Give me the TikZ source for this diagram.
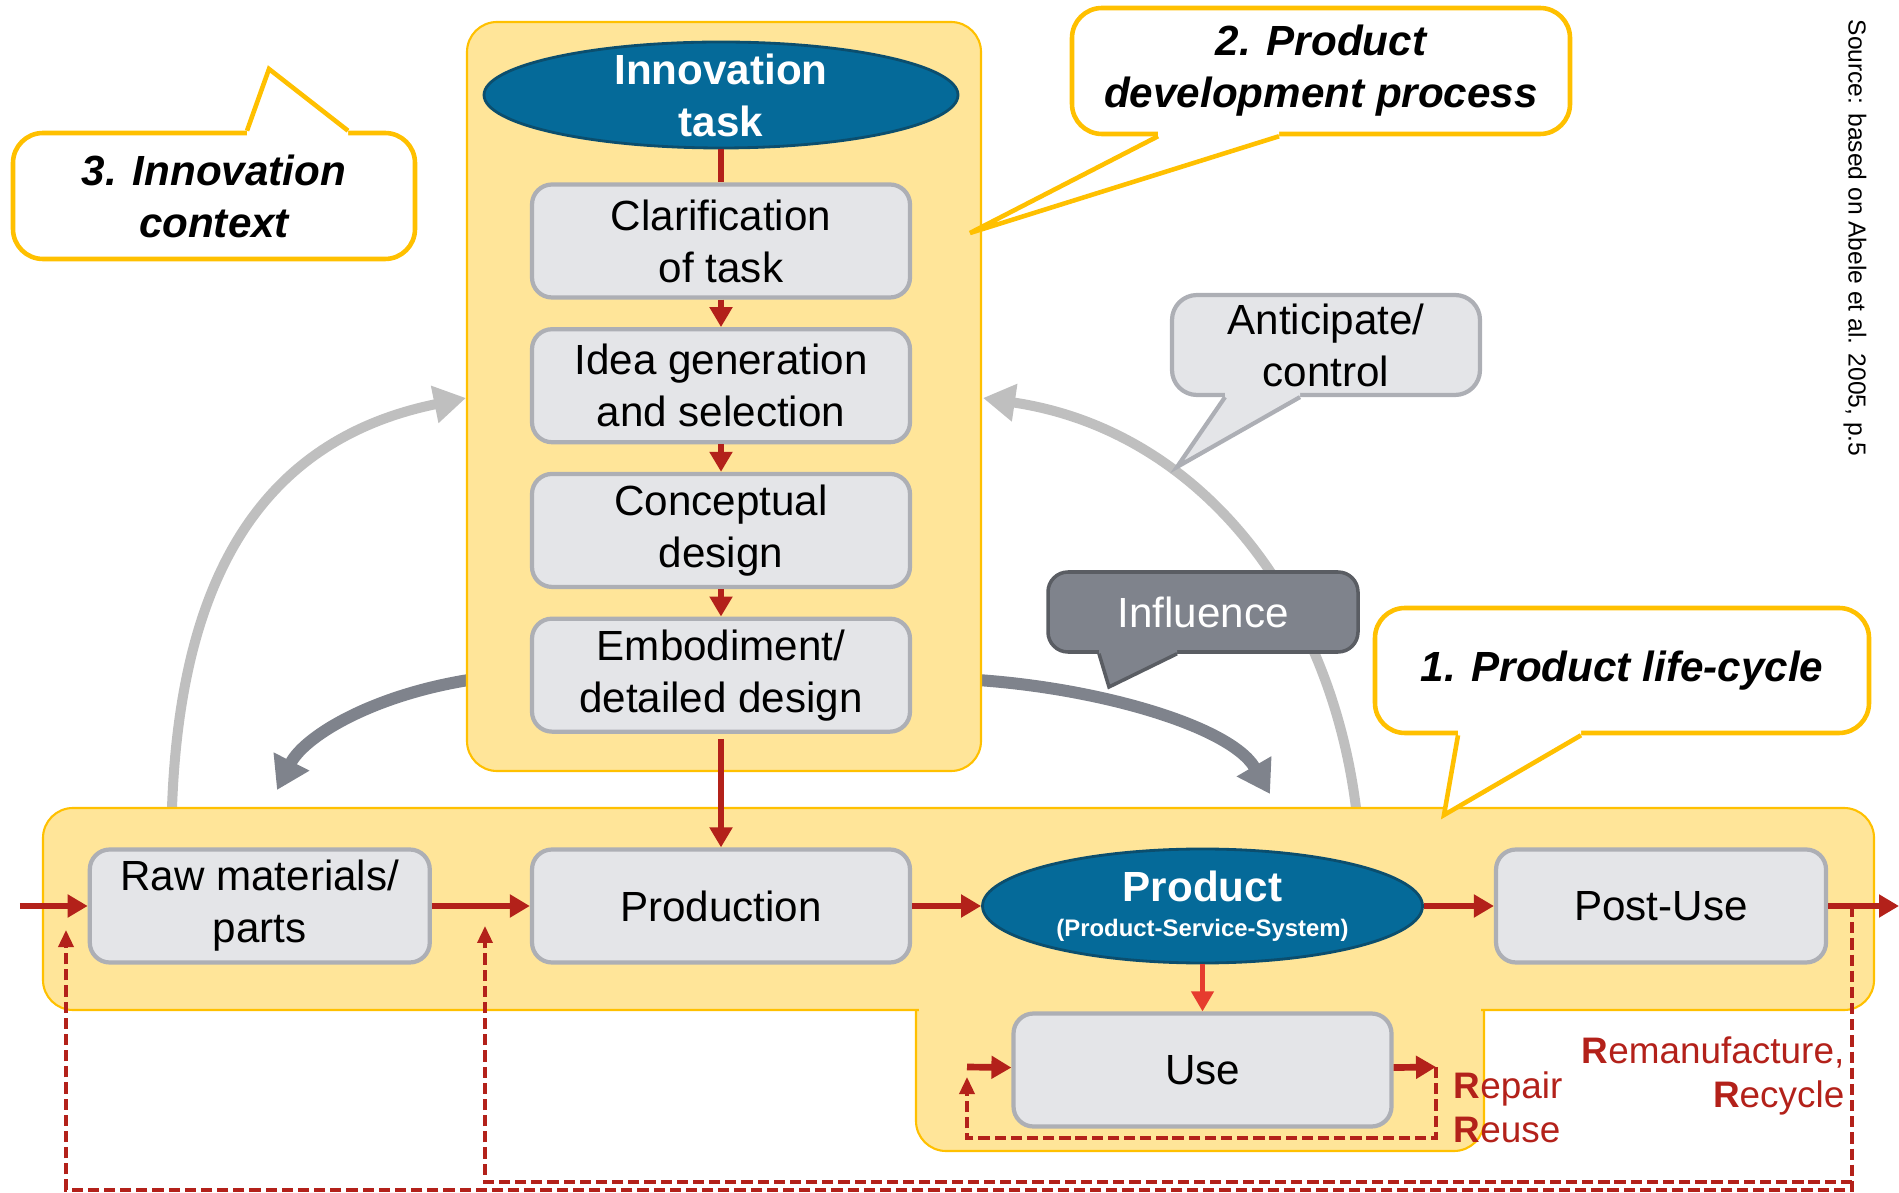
\documentclass[tikz,border=0pt]{standalone}
\usepackage{fontspec}
\setmainfont{Liberation Sans}
\usetikzlibrary{positioning,arrows.meta,shapes.geometric}

\definecolor{lcfill}{HTML}{FFE599}
\definecolor{lcedge}{HTML}{FFC000}
\definecolor{boxfill}{HTML}{E4E5E8}
\definecolor{boxedge}{HTML}{ADAFB5}
\definecolor{ellfill}{HTML}{056A99}
\definecolor{elledge}{HTML}{0B4E6E}
\definecolor{pdred}{HTML}{B3211A}
\definecolor{usered}{HTML}{E63C2E}
\definecolor{lightarc}{HTML}{BFBFBF}
\definecolor{darkarc}{HTML}{7F838C}
\definecolor{darkedge}{HTML}{5A5D63}

\newcommand\mainsize{\fontsize{12}{14.8}\selectfont}

\tikzset{
	stepbox/.style={draw=boxedge, fill=boxfill, line width=1.2pt, rounded corners=2mm, minimum width=3.78cm, minimum height=1.13cm, align=center, inner sep=0pt, font=\mainsize},
	blob/.style={ellipse, draw=elledge, fill=ellfill, line width=0.8pt, text=white, align=center, inner xsep=0pt, font=\mainsize\bfseries},
	zone/.style={fill=lcfill, draw=lcedge, line width=0.6pt, rounded corners=3mm},
	note/.style={draw=lcedge, fill=white, line width=1.3pt, rounded corners=3mm, align=center, inner sep=0pt, font=\mainsize\bfseries\itshape},
	ask/.style={draw=boxedge, fill=boxfill, line width=1.2pt, rounded corners=2.5mm, align=center, inner sep=0pt, font=\mainsize},
	push/.style={draw=darkedge, fill=darkarc, line width=1pt, rounded corners=2mm, text=white, inner sep=0pt, font=\mainsize},
	redline/.style={draw=pdred, line width=1.9pt},
	flow/.style={redline, -{Triangle[width=2.2mm,length=2mm]}},
	loopback/.style={draw=pdred, line width=1pt, dash pattern=on 3.2pt off 1.4pt, -{Triangle[width=1.5mm,length=1.7mm]}},
	feedback/.style={draw=lightarc, line width=1mm, -{Triangle[width=3.6mm,length=3.2mm]}},
	impact/.style={draw=darkarc, line width=1.2mm, -{Triangle[width=3.8mm,length=3.2mm]}},
	redtext/.style={text=pdred, inner sep=0pt, font=\fontsize{10.5}{12.5}\selectfont}
}

\begin{document}
\begin{tikzpicture}
	\useasboundingbox (0,0) rectangle (18.99,-11.93);

	\coordinate (fbl) at (1.72,-8.08);
	\coordinate (fbltip) at (4.66,-3.98);
	\coordinate (fbr) at (13.56,-8.08);
	\coordinate (fbrtip) at (9.83,-3.98);
	\coordinate (ifl) at (4.90,-6.77);
	\coordinate (ifltip) at (2.77,-7.90);
	\coordinate (ifr) at (9.60,-6.79);
	\coordinate (ifrtip) at (12.70,-7.94);

	\draw [feedback] (fbl) .. controls (1.80,-5.8) and (2.6,-4.4) .. (fbltip);
	\draw [feedback] (fbr) .. controls (13.3,-6.0) and (12.0,-4.3) .. (fbrtip);
	\draw [impact] (ifl) .. controls (3.8,-6.9) and (3.05,-7.35) .. (ifltip);
	\draw [impact] (ifr) .. controls (10.9,-6.85) and (12.3,-7.25) .. (ifrtip);

	\draw [zone] (9.16,-9.5) rectangle (14.84,-11.51);
	\draw [zone] (0.43,-8.08) rectangle (18.74,-10.10);
	\fill [lcfill] (9.19,-9.9) rectangle (14.81,-10.2);
	\draw [zone] (4.67,-0.22) rectangle (9.81,-7.71);

	\node [blob, minimum width=4.74cm, minimum height=1.06cm, inner ysep=-1mm] (inno) at (7.21,-0.95) {Innovation\\task};
	\node [stepbox] (clar) at (7.21,-2.41) {Clarification\\of task};
	\node [stepbox, below=2.75mm of clar] (idea) {Idea generation\\and selection};
	\node [stepbox, below=2.75mm of idea] (concept) {Conceptual\\design};
	\node [stepbox, below=2.75mm of concept] (embod) {Embodiment/\\detailed design};

	\node [stepbox] (prod) at (7.21,-9.06) {Production};
	\node [stepbox, minimum width=3.40cm, left=0.98cm of prod] (raw) {Raw materials/\\parts};
	\node [blob, minimum width=4.40cm, minimum height=1.14cm, inner ysep=0pt, right=0.69cm of prod] (product) {Product\\[-5pt]{\fontsize{6.8}{8}\selectfont(Product-Service-System)}};
	\node [stepbox, minimum width=3.30cm, right=0.70cm of product] (post) {Post-Use};
	\node [stepbox, below=0.47cm of product] (use) {Use};

	\coordinate (lcin) at (0.20,-9.06);
	\coordinate (lcout) at (18.99,-9.06);
	\coordinate (usein) at (9.67,-10.67);
	\coordinate (useout) at (14.36,-10.67);
	\coordinate (recout) at (18.52,-9.06);
	\coordinate (recbend) at (18.52,-11.82);
	\coordinate (rawback) at (0.66,-9.30);
	\coordinate (prodback) at (4.85,-9.26);

	\draw [redline] (inno) -- (clar);
	\draw [flow] (clar) -- (idea);
	\draw [flow] (idea) -- (concept);
	\draw [flow] (concept) -- (embod);
	\draw [flow] ([yshift=-0.5mm]embod.south) -- (prod);

	\draw [loopback] (recout) -- (18.52,-11.90) -| (rawback);
	\draw [loopback] (recbend) -| (prodback);
	\draw [loopback] (useout) -- ++(0,-0.71) -| ([yshift=-1mm]usein);

	\draw [flow] (lcin) -- (raw);
	\draw [flow] (raw) -- (prod);
	\draw [flow] (prod) -- (product);
	\draw [flow] (product) -- (post);
	\draw [flow] (post) -- (lcout);
	\draw [flow, draw=usered, line width=1.2pt] (product) -- (use);
	\draw [flow] (usein) -- (use);
	\draw [flow] (use) -- (useout);

	\node [note, minimum width=4.02cm, minimum height=1.26cm] (ctxnote) at (2.14,-1.96) {3. Innovation\\context};
	\coordinate (ctxtip) at (2.69,-0.69);
	\fill [white] ([xshift=3.3mm,yshift=-1mm]ctxnote.north) -- ([xshift=3.3mm]ctxnote.north) -- (ctxtip) -- ([xshift=13.4mm]ctxnote.north) -- ([xshift=13.4mm,yshift=-1mm]ctxnote.north) -- cycle;
	\draw [lcedge, line width=1.3pt] ([xshift=3.3mm]ctxnote.north) -- (ctxtip) -- ([xshift=13.4mm]ctxnote.north);

	\node [note, minimum width=4.98cm, minimum height=1.26cm] (pdpnote) at (13.21,-0.71) {2. Product\\development process};
	\coordinate (pdptip) at (9.70,-2.33);
	\fill [white] ([xshift=-16.3mm,yshift=1mm]pdpnote.south) -- ([xshift=-16.3mm]pdpnote.south) -- (pdptip) -- ([xshift=-4.2mm]pdpnote.south) -- ([xshift=-4.2mm,yshift=1mm]pdpnote.south) -- cycle;
	\draw [lcedge, line width=1.3pt] ([xshift=-16.3mm]pdpnote.south) -- (pdptip) -- ([xshift=-4.2mm]pdpnote.south);

	\node [note, minimum width=4.94cm, minimum height=1.25cm] (plcnote) at (16.22,-6.705) {1. Product life-cycle};
	\coordinate (plctip) at (14.44,-8.15);
	\fill [white] ([xshift=-16.4mm,yshift=1mm]plcnote.south) -- ([xshift=-16.4mm]plcnote.south) -- (plctip) -- ([xshift=-4.1mm]plcnote.south) -- ([xshift=-4.1mm,yshift=1mm]plcnote.south) -- cycle;
	\draw [lcedge, line width=1.3pt] ([xshift=-16.4mm]plcnote.south) -- (plctip) -- ([xshift=-4.1mm]plcnote.south);

	\node [ask, minimum width=3.08cm, minimum height=1.00cm] (askbox) at (13.26,-3.45) {Anticipate/\\control};
	\coordinate (asktip) at (11.77,-4.67);
	\fill [boxfill] ([xshift=-10.1mm,yshift=1mm]askbox.south) -- ([xshift=-10.1mm]askbox.south) -- (asktip) -- ([xshift=-2.6mm]askbox.south) -- ([xshift=-2.6mm,yshift=1mm]askbox.south) -- cycle;
	\draw [boxedge, line width=1.2pt] ([xshift=-10.1mm]askbox.south) -- (asktip) -- ([xshift=-2.6mm]askbox.south);

	\node [push, minimum width=3.10cm, minimum height=0.80cm] (pushbox) at (12.03,-6.12) {Influence};
	\coordinate (pushtip) at (11.09,-6.87);
	\fill [darkarc] ([xshift=-10.4mm,yshift=1mm]pushbox.south) -- ([xshift=-10.4mm]pushbox.south) -- (pushtip) -- ([xshift=-2.6mm]pushbox.south) -- ([xshift=-2.6mm,yshift=1mm]pushbox.south) -- cycle;
	\draw [darkedge, line width=1pt] ([xshift=-10.4mm]pushbox.south) -- (pushtip) -- ([xshift=-2.6mm]pushbox.south);

	\node [redtext, anchor=north west, align=left] (repair) at (14.53,-10.71) {{\bfseries R}epair\\{\bfseries R}euse};
	\node [redtext, anchor=north east, align=right] (reman) at (18.45,-10.36) {{\bfseries R}emanufacture,\\{\bfseries R}ecycle};
	\node [rotate=-90, inner sep=0pt, font=\fontsize{7}{8}\selectfont] (source) at (18.55,-2.38) {Source: based on Abele et al. 2005, p.5};
\end{tikzpicture}
\end{document}
